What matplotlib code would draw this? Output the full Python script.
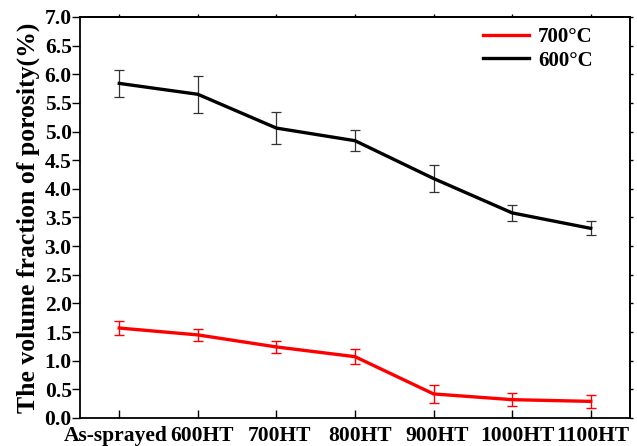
import matplotlib
matplotlib.use("Agg")
import matplotlib.pyplot as plt
from matplotlib.lines import Line2D
import matplotlib.transforms as mtransforms
import numpy as np

categories = ["As-sprayed", "600HT", "700HT", "800HT", "900HT", "1000HT", "1100HT"]
black_600 = [5.84, 5.65, 5.06, 4.84, 4.18, 3.58, 3.31]
black_err = [0.23, 0.32, 0.28, 0.18, 0.24, 0.14, 0.12]
red_700 = [1.57, 1.45, 1.24, 1.07, 0.42, 0.32, 0.29]
red_err = [0.13, 0.11, 0.10, 0.13, 0.15, 0.11, 0.12]

plt.rcParams['font.family'] = ['Liberation Serif', 'DejaVu Serif']
plt.rcParams['font.weight'] = 'bold'

fig = plt.figure(figsize=(6.37, 4.46), dpi=100)
ax = fig.add_axes([0.1256, 0.0628, 0.8634, 0.8992])
x = np.arange(len(categories))

ax.errorbar(x, red_700, yerr=red_err, color='#ff0000', lw=2.4, elinewidth=1.0,
            capsize=3.5, capthick=1.0, ecolor='#ff0000', zorder=3)
ax.errorbar(x, black_600, yerr=black_err, color='black', lw=2.4, elinewidth=0.9,
            capsize=3.5, capthick=0.9, ecolor='#333333', zorder=3)

ax.set_xlim(-0.5, 6.5)
ax.set_ylim(0, 7.0)
yt = np.arange(0, 7.01, 0.5)
ax.set_yticks(yt)
ax.set_yticklabels([f"{v:.1f}" for v in yt])
ax.set_xticks(x)
ax.set_xticklabels(categories)
ax.tick_params(axis='x', which='major', bottom=True, top=False, direction='in',
               length=6, width=1, labelsize=15.5, pad=5.5)
ax.tick_params(axis='y', which='major', left=True, right=False, direction='out',
               length=6, width=1, labelsize=15.5, pad=0)
# nudge x tick labels horizontally (pixels) to avoid overlap like the reference
nudges = [-3.5, 4.5, 3.5, 5.5, 3.5, 5.5, 2.5]
for lab, dx in zip(ax.get_xticklabels(), nudges):
    off = mtransforms.ScaledTranslation(dx / 100.0, 0, fig.dpi_scale_trans)
    lab.set_transform(lab.get_transform() + off)

# small outward ticks on top and right
axt = ax.secondary_xaxis('top')
axt.set_xticks(x)
axt.tick_params(direction='out', length=2.5, width=1, labeltop=False)
axr = ax.secondary_yaxis('right')
axr.set_yticks(yt)
axr.tick_params(direction='out', length=2.5, width=1, labelright=False)
for a in (axt, axr):
    for s in a.spines.values():
        s.set_linewidth(1.3)

for lab in ax.get_xticklabels() + ax.get_yticklabels():
    lab.set_fontweight('bold')
for s in ax.spines.values():
    s.set_linewidth(1.3)

ax.set_ylabel("The volume fraction of porosity(%)", fontsize=18.5, fontweight='bold', labelpad=3)

handles = [Line2D([], [], color='#ff0000', lw=2.4), Line2D([], [], color='black', lw=2.4)]
leg = ax.legend(handles, ['700\u00b0C', '600\u00b0C'], loc='upper right', frameon=False,
                fontsize=15, handlelength=2.2, handletextpad=0.43,
                borderaxespad=0.2, bbox_to_anchor=(0.955, 1.005), labelspacing=0.15)
for t in leg.get_texts():
    t.set_fontweight('bold')

fig.savefig("out.png", dpi=100)
